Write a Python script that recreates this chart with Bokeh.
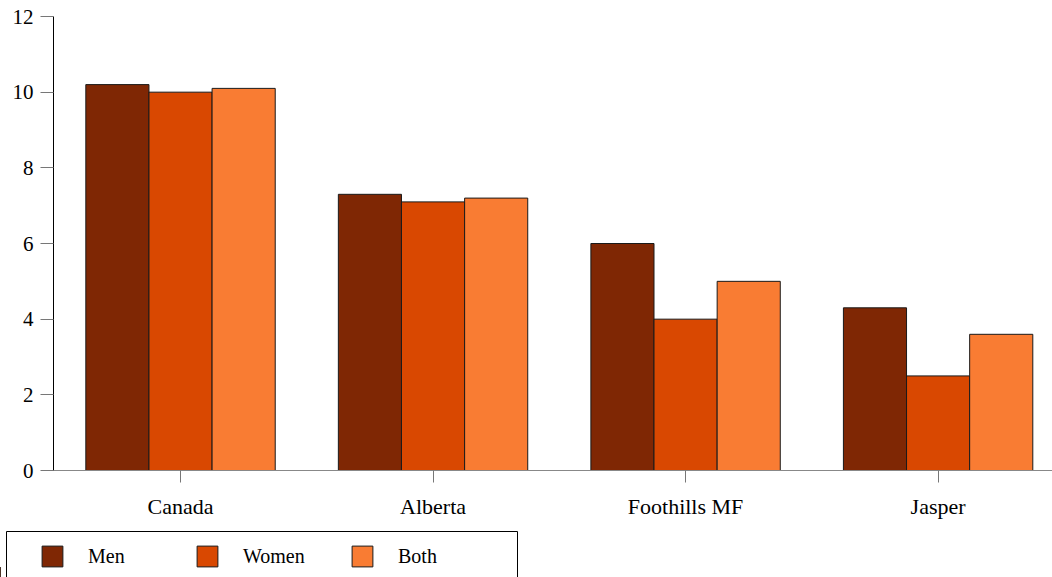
from bokeh.plotting import figure
from bokeh.layouts import column, row
from bokeh.models import ColumnDataSource, Range1d, FixedTicker, Legend, LegendItem, BoxAnnotation
from bokeh.transform import dodge
from bokeh.embed import file_html
from bokeh.resources import INLINE

categories = ["Canada", "Alberta", "Foothills MF", "Jasper"]
men = [10.2, 7.3, 6.0, 4.3]
women = [10.0, 7.1, 4.0, 2.5]
both = [10.1, 7.2, 5.0, 3.6]
series_names = ["Men", "Women", "Both"]
colors = ["#7f2704", "#d94801", "#f97c33"]
y_ticks = [0, 2, 4, 6, 8, 10, 12]

FONT = "Liberation Serif"

source = ColumnDataSource(dict(x=list(range(len(categories))), men=men, women=women, both=both))

p = figure(width=1052, height=527, output_backend="svg", toolbar_location=None,
           x_range=Range1d(-0.503, 3.453), y_range=Range1d(0, 12),
           min_border_left=53, min_border_right=0, min_border_top=16, min_border_bottom=57)
p.outline_line_color = None
p.grid.grid_line_color = None
p.background_fill_color = "white"

for col, off, c in zip(["men", "women", "both"], [-0.25, 0.0, 0.25], colors):
    p.vbar(x=dodge("x", off), top=col, width=0.25, bottom=0, source=source,
           fill_color=c, line_color="#1a1a1a", line_width=1)

# y axis
ya = p.yaxis[0]
ya.ticker = FixedTicker(ticks=y_ticks)
ya.major_tick_out = 13
ya.major_tick_in = 0
ya.minor_tick_line_color = None
ya.major_tick_line_color = "#777777"
ya.axis_line_color = "black"
ya.major_label_standoff = 7
ya.major_label_text_font = FONT
ya.major_label_text_font_size = "21px"
ya.major_label_text_color = "black"

# x axis
xa = p.xaxis[0]
xa.ticker = FixedTicker(ticks=list(range(len(categories))))
xa.major_label_overrides = {i: c for i, c in enumerate(categories)}
xa.major_tick_out = 12
xa.major_tick_in = 0
xa.minor_tick_line_color = None
xa.major_tick_line_color = "#777777"
xa.axis_line_color = "#888888"
xa.major_label_standoff = 11
xa.major_label_text_font = FONT
xa.major_label_text_font_size = "22px"
xa.major_label_text_color = "black"

# legend strip below the chart (pixel-scaled ranges)
lp = figure(width=1052, height=50, output_backend="svg", toolbar_location=None,
            x_range=Range1d(0, 1052), y_range=Range1d(0, 50),
            x_axis_location=None, y_axis_location=None,
            min_border_left=0, min_border_right=0, min_border_top=0, min_border_bottom=0)
lp.outline_line_color = None
lp.grid.grid_line_color = None

# legend frame
lp.add_layout(BoxAnnotation(left=6, right=517, top=46, bottom=-20,
                            fill_alpha=0, line_color="black", line_width=1, line_alpha=1))

leg_renderers = []
for c in colors:
    # off-range stand-in glyph so the legend swatch takes this series' style
    r = lp.vbar(x=[-500], top=[10], width=5, fill_color=c, line_color="#1a1a1a", line_width=1)
    leg_renderers.append(r)

legend = Legend(items=[LegendItem(label=n, renderers=[r]) for n, r in zip(series_names, leg_renderers)],
                orientation="horizontal", location=(27, -4),
                glyph_width=26, glyph_height=26, label_standoff=23, label_width=106,
                spacing=0, padding=12, margin=0,
                label_text_font=FONT, label_text_font_size="20px", label_text_color="black",
                border_line_alpha=0, background_fill_alpha=0)
lp.add_layout(legend, "center")

open("out.html", "w").write(file_html(column(p, row(lp), spacing=0), INLINE))
